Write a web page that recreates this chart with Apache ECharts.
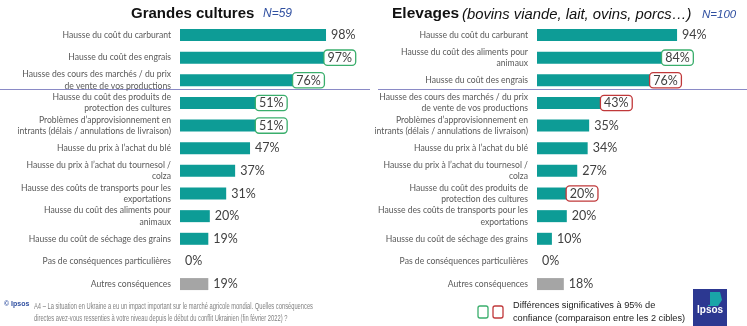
<!DOCTYPE html>
<html><head><meta charset="utf-8">
<script src="https://cdn.jsdelivr.net/npm/echarts@6/dist/echarts.min.js"></script>
<style>html,body{margin:0;padding:0;background:#fff}#c{width:747px;height:326px}</style>
</head><body><div id="c"></div>
<script>
const leftCategories = [
  "Hausse du coût du carburant",
  "Hausse du coût des engrais",
  "Hausse des cours des marchés / du prix\nde vente de vos productions",
  "Hausse du coût des produits de\nprotection des cultures",
  "Problèmes d’approvisionnement en\nintrants (délais / annulations de livraison)",
  "Hausse du prix à l’achat du blé",
  "Hausse du prix à l’achat du tournesol /\ncolza",
  "Hausse des coûts de transports pour les\nexportations",
  "Hausse du coût des aliments pour\nanimaux",
  "Hausse du coût de séchage des grains",
  "Pas de conséquences particulières",
  "Autres conséquences"
];
const leftValues = [98, 97, 76, 51, 51, 47, 37, 31, 20, 19, 0, 19];
const leftSignif = ["", "g", "g", "g", "g", "", "", "", "", "", "", ""];

const rightCategories = [
  "Hausse du coût du carburant",
  "Hausse du coût des aliments pour\nanimaux",
  "Hausse du coût des engrais",
  "Hausse des cours des marchés / du prix\nde vente de vos productions",
  "Problèmes d’approvisionnement en\nintrants (délais / annulations de livraison)",
  "Hausse du prix à l’achat du blé",
  "Hausse du prix à l’achat du tournesol /\ncolza",
  "Hausse du coût des produits de\nprotection des cultures",
  "Hausse des coûts de transports pour les\nexportations",
  "Hausse du coût de séchage des grains",
  "Pas de conséquences particulières",
  "Autres conséquences"
];
const rightValues = [94, 84, 76, 43, 35, 34, 27, 20, 20, 10, 0, 18];
const rightSignif = ["", "g", "r", "r", "", "", "", "r", "", "", "", ""];

const questionText = "A4 – La situation en Ukraine a eu un impact important sur le marché agricole mondial. Quelles conséquences\ndirectes avez-vous ressenties à votre niveau depuis le début du conflit Ukrainien (fin février 2022) ?";

const TEAL = "#0d9c96", GREY = "#a5a5a5";
const LABEL_FONT = "Lato";

function buildData(cats, vals, sig) {
  return vals.map((v, i) => {
    const isOther = i === cats.length - 1;
    const d = { value: v, itemStyle: { color: isOther ? GREY : TEAL } };
    if (sig[i]) {
      d.label = { distance: 0, formatter: "{" + sig[i] + "|{c}%}" };
    }
    return d;
  });
}

const boxRich = (color) => ({
  fontSize: 12.5, fontFamily: LABEL_FONT, color: "#404040",
  borderColor: color, borderWidth: 1.3, borderRadius: 3,
  padding: [1, 3, 0, 3], backgroundColor: "#fff", lineHeight: 14
});

const gridTop = 23.7, gridH = 271.7, gridW = 149;

function yAxis(idx, cats) {
  return {
    gridIndex: idx, type: "category", data: cats, inverse: true,
    axisLine: { show: false }, axisTick: { show: false },
    axisLabel: { margin: 9, color: "#595959", fontSize: 8.6, fontFamily: LABEL_FONT, lineHeight: 11.5, align: "right" }
  };
}
function xAxis(idx) {
  return { gridIndex: idx, type: "value", min: 0, max: 100, show: false, splitLine: { show: false } };
}
function series(idx, cats, vals, sig) {
  return {
    type: "bar", xAxisIndex: idx, yAxisIndex: idx, barWidth: 12,
    data: buildData(cats, vals, sig),
    label: {
      show: true, position: "right", distance: 5, formatter: "{c}%",
      fontSize: 12.5, fontFamily: LABEL_FONT, color: "#404040",
      rich: { g: boxRich("#3aae6c"), r: boxRich("#c0383a") }
    },
    animation: false
  };
}

// horizontal compression for the condensed footnote font
const qFont = "9.5px 'Liberation Sans'";
const mctx = document.createElement("canvas").getContext("2d");
mctx.font = qFont;
const qLine1W = mctx.measureText(questionText.split("\n")[0]).width;
const qScale = 279 / qLine1W;

const chart = echarts.init(document.getElementById("c"), null, { renderer: "canvas" });
chart.setOption({
  animation: false,
  grid: [
    { left: 180, top: gridTop, width: gridW, height: gridH },
    { left: 537, top: gridTop, width: gridW, height: gridH }
  ],
  xAxis: [xAxis(0), xAxis(1)],
  yAxis: [yAxis(0, leftCategories), yAxis(1, rightCategories)],
  series: [series(0, leftCategories, leftValues, leftSignif), series(1, rightCategories, rightValues, rightSignif)],
  graphic: [
    { type: "text", left: 131, top: 6, style: { text: "Grandes cultures", font: "bold 15px 'Liberation Sans'", fill: "#111" } },
    { type: "text", left: 263, top: 8, style: { text: "N=59", font: "italic 12px 'Liberation Sans'", fill: "#2f4fa0" } },
    { type: "text", left: 392, top: 6, style: { text: "Elevages", font: "bold 15.5px 'Liberation Sans'", fill: "#111" } },
    { type: "text", left: 462, top: 7, style: { text: "(bovins viande, lait, ovins, porcs…)", font: "italic 14.8px 'Liberation Sans'", fill: "#111" } },
    { type: "text", left: 702, top: 9, style: { text: "N=100", font: "italic 11.5px 'Liberation Sans'", fill: "#2f4fa0" } },
    { type: "line", shape: { x1: 0, y1: 89.5, x2: 370, y2: 89.5 }, style: { stroke: "#8a8ac6", lineWidth: 1 } },
    { type: "line", shape: { x1: 378, y1: 89.5, x2: 747, y2: 89.5 }, style: { stroke: "#8a8ac6", lineWidth: 1 } },
    { type: "text", x: 4, y: 301, style: { text: "© Ipsos", font: "bold 7px 'Liberation Sans'", fill: "#2f4fa0" } },
    { type: "text", x: 34, y: 300, scaleX: qScale, style: { text: questionText, font: qFont, fill: "#808080", lineHeight: 12.5 } },
    { type: "rect", shape: { x: 478, y: 306, width: 10, height: 12, r: 2 }, style: { fill: "#fff", stroke: "#3aae6c", lineWidth: 1.3 } },
    { type: "rect", shape: { x: 493, y: 306, width: 10, height: 12, r: 2 }, style: { fill: "#fff", stroke: "#c0383a", lineWidth: 1.3 } },
    { type: "text", left: 513, top: 299, style: { text: "Différences significatives à 95% de\nconfiance (comparaison entre les 2 cibles)", font: "9.2px 'Liberation Sans'", fill: "#222", lineHeight: 13 } },
    { type: "rect", shape: { x: 693, y: 289, width: 34, height: 37 }, style: { fill: "#2c3891" } },
    { type: "polygon", shape: { points: [[708, 292], [720, 292], [722, 300], [718, 306], [708, 306]] }, style: { fill: "#19a5a8" } },
    { type: "rect", shape: { x: 707, y: 292, width: 3, height: 13 }, style: { fill: "#2c3891" } },
    { type: "text", left: 697, top: 305, style: { text: "Ipsos", font: "bold 10px 'Liberation Sans'", fill: "#fff" } }
  ]
});
</script></body></html>
